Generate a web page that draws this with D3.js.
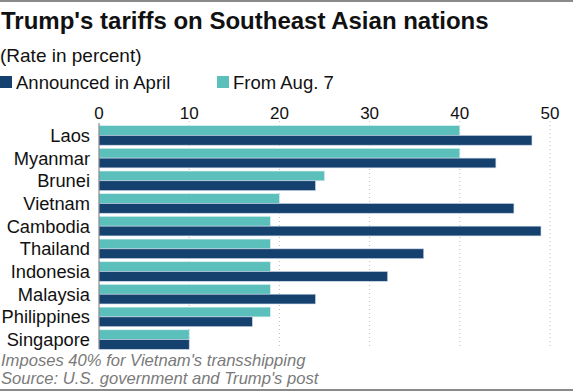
<!DOCTYPE html>
<html>
<head>
<meta charset="utf-8">
<script src="https://cdn.jsdelivr.net/npm/d3@7"></script>
<style>
  body { margin: 0; background: #fff; }
  svg { font-family: "Liberation Sans", Arial, sans-serif; display: block; }
</style>
</head>
<body>
<div id="chart"></div>
<script>
// data
var countries = ["Laos", "Myanmar", "Brunei", "Vietnam", "Cambodia", "Thailand", "Indonesia", "Malaysia", "Philippines", "Singapore"]
var april = [48, 44, 24, 46, 49, 36, 32, 24, 17, 10]
var aug7 = [40, 40, 25, 20, 19, 19, 19, 19, 19, 10]
var ticks = [0, 10, 20, 30, 40, 50]

const W = 573, H = 391
const dark = "#15416f", teal = "#5bbfbb"

var svg = d3.select("#chart").append("svg")
    .attr("width", W)
    .attr("height", H)

// top & bottom rules
svg.append("rect").attr("x", 0).attr("y", 0).attr("width", W).attr("height", 2).attr("fill", "#8a8a8a")
svg.append("rect").attr("x", 0).attr("y", H - 2).attr("width", W).attr("height", 2).attr("fill", "#8a8a8a")

svg.append("text")
    .attr("x", 1).attr("y", 29)
    .attr("font-size", "24px").attr("font-weight", "bold").attr("fill", "#111")
    .text("Trump's tariffs on Southeast Asian nations")

svg.append("text")
    .attr("x", 0).attr("y", 62)
    .attr("font-size", "19px").attr("fill", "#111")
    .text("(Rate in percent)")

// legend
var legend = [{label: "Announced in April", color: dark, x: 0}, {label: "From Aug. 7", color: teal, x: 217}]
var lg = svg.selectAll(".lg").data(legend).enter().append("g")
    .attr("transform", d => "translate(" + d.x + ",76)")
lg.append("rect").attr("width", 12).attr("height", 12).attr("fill", d => d.color)
lg.append("text").attr("x", 16).attr("y", 12.5).attr("font-size", "18.5px").attr("fill", "#111").text(d => d.label)

var x = d3.scaleLinear().domain([0, 50]).range([99, 550])
var y = d3.scaleBand().domain(countries).range([125, 350]).paddingInner(0.14).paddingOuter(0.03)

// grid lines
svg.append("g").selectAll("line").data(ticks.slice(1)).enter().append("line")
    .attr("x1", d => x(d)).attr("x2", d => x(d))
    .attr("y1", 121).attr("y2", 347)
    .attr("stroke", "#bbb").attr("stroke-width", 1).attr("stroke-dasharray", "1,3")

// top axis labels
svg.append("g").selectAll("text").data(ticks).enter().append("text")
    .attr("x", d => x(d)).attr("y", 119)
    .attr("text-anchor", "middle").attr("font-size", "17px").attr("fill", "#111")
    .text(d => d)

var rows = countries.map((c, i) => ({name: c, april: april[i], aug: aug7[i]}))
var half = y.bandwidth() / 2

var row = svg.append("g").selectAll("g").data(rows).enter().append("g")
    .attr("transform", d => "translate(0," + y(d.name) + ")")

row.append("rect")
    .attr("x", x(0)).attr("y", 0)
    .attr("width", d => x(d.aug) - x(0)).attr("height", half)
    .attr("fill", teal).attr("stroke", "#d6eeee").attr("stroke-width", 0.6)
row.append("rect")
    .attr("x", x(0)).attr("y", half)
    .attr("width", d => x(d.april) - x(0)).attr("height", half)
    .attr("fill", dark).attr("stroke", "#c9d6e6").attr("stroke-width", 0.6)

row.append("text")
    .attr("x", 90).attr("y", half + 6.5)
    .attr("text-anchor", "end").attr("font-size", "18.3px").attr("fill", "#111")
    .text(d => d.name)

// vertical axis line
svg.append("line").attr("x1", x(0)).attr("x2", x(0)).attr("y1", 123).attr("y2", 349)
    .attr("stroke", "#777").attr("stroke-width", 1)

// notes
var notes = ["Imposes 40% for Vietnam's transshipping", "Source: U.S. government and Trump's post"]
svg.append("g").selectAll("text").data(notes).enter().append("text")
    .attr("x", 1).attr("y", (d, i) => 366 + i * 18)
    .attr("font-size", "16.6px").attr("font-style", "italic").attr("fill", "#7a7a7a")
    .text(d => d)
</script>
</body>
</html>
